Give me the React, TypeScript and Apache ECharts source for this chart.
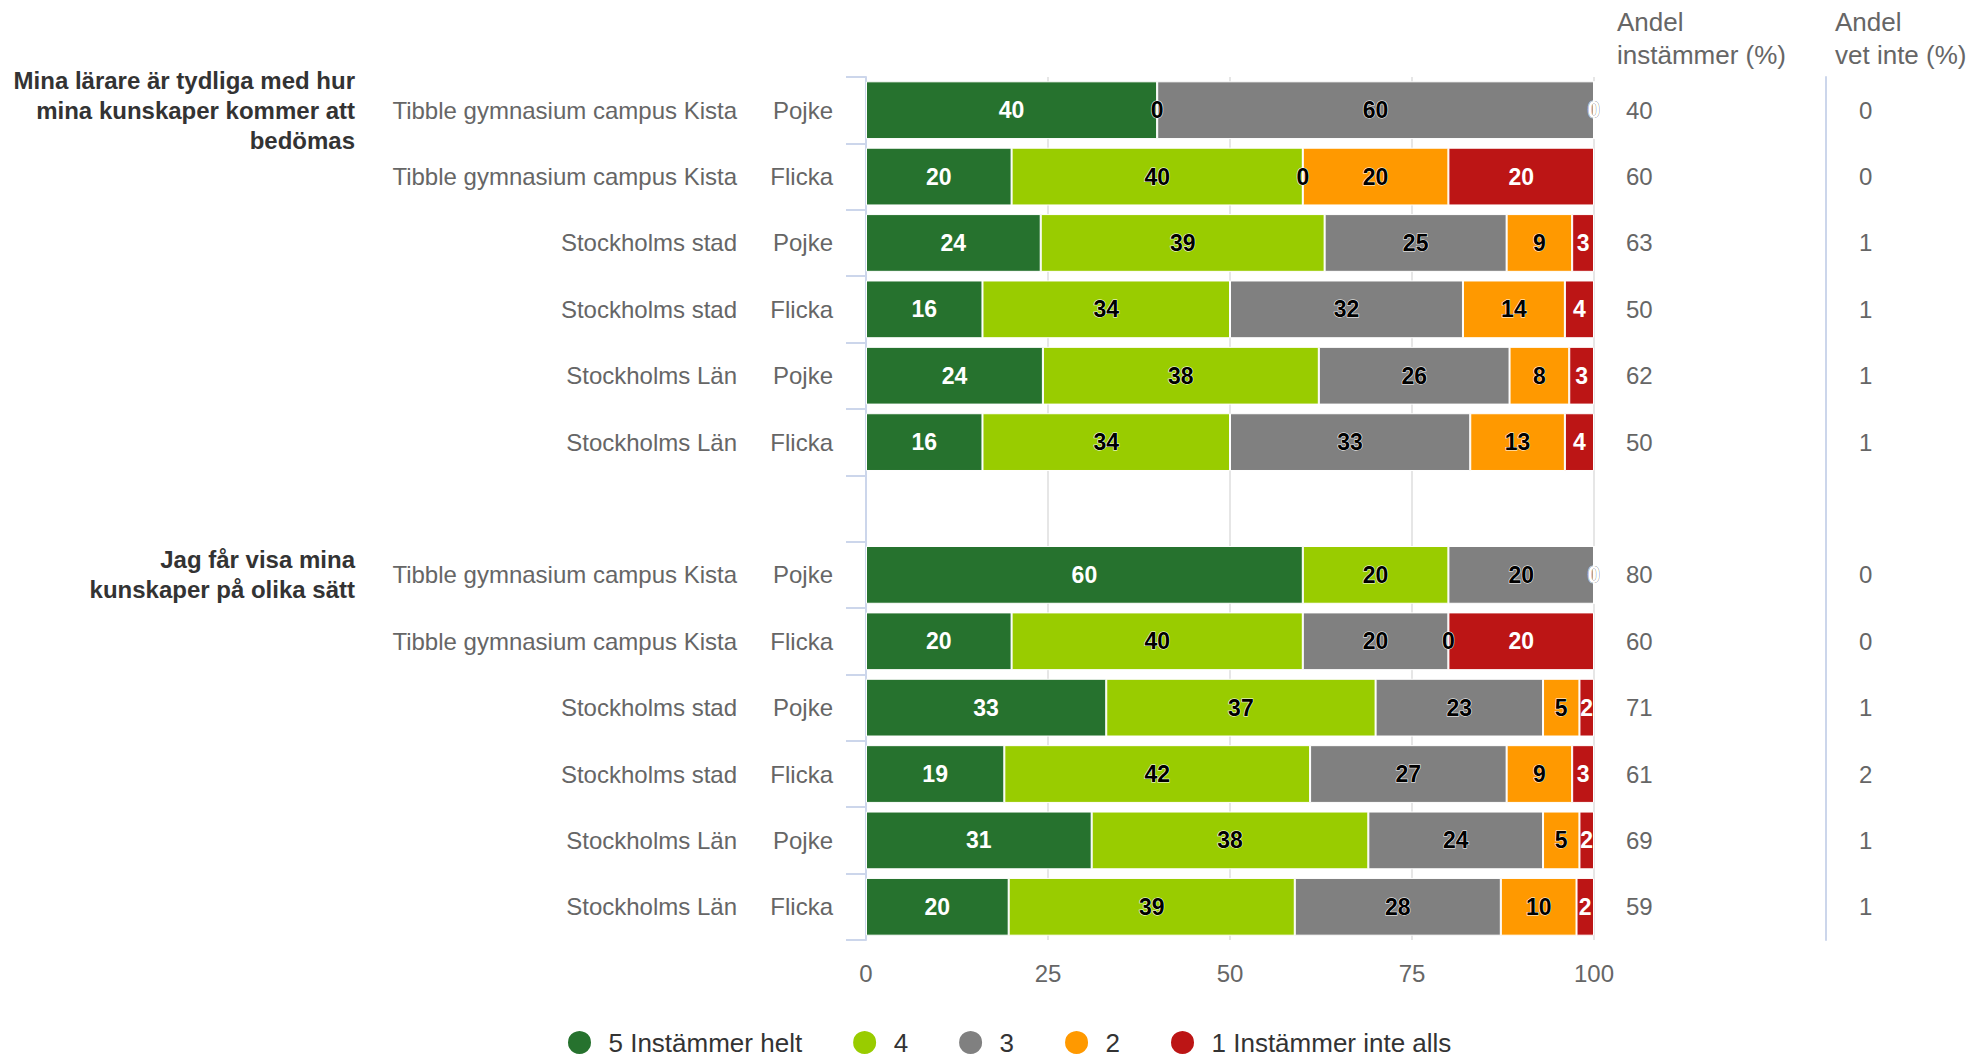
import React, { useEffect, useRef } from 'react';
import * as echarts from 'echarts';

const questions = [
  'Mina lärare är tydliga med hur\nmina kunskaper kommer att\nbedömas', '', '', '', '', '', '',
  'Jag får visa mina\nkunskaper på olika sätt', '', '', '', '', '',
];
const schools = [
  'Tibble gymnasium campus Kista', 'Tibble gymnasium campus Kista', 'Stockholms stad', 'Stockholms stad', 'Stockholms Län', 'Stockholms Län', '',
  'Tibble gymnasium campus Kista', 'Tibble gymnasium campus Kista', 'Stockholms stad', 'Stockholms stad', 'Stockholms Län', 'Stockholms Län',
];
const genders = ['Pojke', 'Flicka', 'Pojke', 'Flicka', 'Pojke', 'Flicka', '', 'Pojke', 'Flicka', 'Pojke', 'Flicka', 'Pojke', 'Flicka'];

const seriesNames = ['5 Instämmer helt', '4', '3', '2', '1 Instämmer inte alls'];
const s5 = [40, 20, 24, 16, 24.3, 16, null, 60, 20, 33, 19, 31, 19.6];
const s4 = [0, 40, 39, 34, 37.9, 34, null, 20, 40, 37, 42, 38, 39.3];
const s3 = [60, 0, 25, 32, 26.2, 33, null, 20, 20, 23, 27, 24, 28.3];
const s2 = [0, 20, 9, 14, 8.2, 13, null, 0, 0, 5, 9, 5, 10.4];
const s1 = [0, 20, 3, 4, 3.4, 4, null, 0, 20, 2, 3, 2, 2.4];

const agree = ['40', '60', '63', '50', '62', '50', '', '80', '60', '71', '61', '69', '59'];
const dontKnow = ['0', '0', '1', '1', '1', '1', '', '0', '0', '1', '2', '1', '1'];

const xTicks = { min: 0, max: 100, interval: 25 };

const colors = ['#26722e', '#99cc00', '#808080', '#ff9900', '#bc1515'];
const labelColors = ['#ffffff', '#000000', '#000000', '#000000', '#ffffff'];

const FONT = '"Liberation Sans", Arial, Helvetica, sans-serif';

export default function App() {
  const ref = useRef<HTMLDivElement>(null);
  useEffect(() => {
    const chart = echarts.init(ref.current as HTMLDivElement, null, { renderer: 'svg' });
    const idx = genders.map((_, i) => String(i));
    const baseY = {
      type: 'category' as const,
      data: idx,
      inverse: true,
      axisLine: { show: false },
      axisTick: { show: false },
      splitLine: { show: false },
    };
    const allSeries = [s5, s4, s3, s2, s1];
    const option: any = {
      animation: false,
      textStyle: { fontFamily: FONT },
      color: colors,
      grid: { left: 866, top: 77, width: 728, height: 863, containLabel: false, outerBoundsMode: 'none' },
      legend: {
        left: 566,
        top: 1029,
        padding: 0,
        icon: 'circle',
        itemWidth: 48,
        itemHeight: 25,
        itemGap: 49,
        data: seriesNames,
        textStyle: { fontSize: 26, color: '#333333', fontFamily: FONT },
      },
      graphic: [
        {
          type: 'text',
          x: 1617,
          y: 5,
          style: { text: 'Andel\ninstämmer (%)', fontSize: 26, lineHeight: 33, fill: '#666666', fontFamily: FONT, verticalAlign: 'top' },
        },
        {
          type: 'text',
          x: 1835,
          y: 5,
          style: { text: 'Andel\nvet inte (%)', fontSize: 26, lineHeight: 33, fill: '#666666', fontFamily: FONT, verticalAlign: 'top' },
        },
      ],
      xAxis: {
        type: 'value',
        min: xTicks.min,
        max: xTicks.max,
        interval: xTicks.interval,
        axisLine: { show: false },
        axisTick: { show: false },
        axisLabel: { fontSize: 24, color: '#666666', margin: 21, fontFamily: FONT },
        splitLine: { show: true, lineStyle: { color: '#e6e6e6', width: 2 } },
      },
      yAxis: [
        {
          ...baseY,
          position: 'left',
          axisLine: { show: true, lineStyle: { color: '#ccd6eb', width: 2 } },
          axisTick: { show: true, length: 20, lineStyle: { color: '#ccd6eb', width: 2 } },
          axisLabel: {
            interval: 0,
            margin: 33,
            fontSize: 24,
            color: '#666666',
            fontFamily: FONT,
            formatter: (_v: string, i: number) => genders[i],
          },
        },
        {
          ...baseY,
          position: 'left',
          axisLabel: {
            interval: 0,
            margin: 129,
            fontSize: 24,
            color: '#666666',
            fontFamily: FONT,
            formatter: (_v: string, i: number) => schools[i],
          },
        },
        {
          ...baseY,
          position: 'left',
          axisLabel: {
            interval: 0,
            margin: 511,
            fontSize: 24,
            lineHeight: 30,
            fontWeight: 'bold',
            color: '#333333',
            align: 'right',
            fontFamily: FONT,
            formatter: (_v: string, i: number) => questions[i],
          },
        },
        {
          ...baseY,
          position: 'right',
          axisLabel: {
            interval: 0,
            margin: 32,
            fontSize: 24,
            color: '#666666',
            fontFamily: FONT,
            formatter: (_v: string, i: number) => agree[i],
          },
        },
        {
          ...baseY,
          position: 'right',
          offset: 232,
          axisLine: { show: true, lineStyle: { color: '#ccd6eb', width: 2 } },
          axisLabel: {
            interval: 0,
            margin: 33,
            fontSize: 24,
            color: '#666666',
            fontFamily: FONT,
            formatter: (_v: string, i: number) => dontKnow[i],
          },
        },
      ],
      series: allSeries.map((vals, k) => ({
        name: seriesNames[k],
        type: 'bar',
        stack: 'total',
        yAxisIndex: 0,
        barCategoryGap: '13%',
        data: vals,
        itemStyle: { color: colors[k], borderColor: '#ffffff', borderWidth: 1 },
        label: {
          show: true,
          position: 'inside',
          fontSize: 23,
          fontWeight: 'bold',
          fontFamily: FONT,
          color: labelColors[k],
          textBorderColor: labelColors[k] === '#000000' ? '#ffffff' : 'transparent',
          textBorderWidth: labelColors[k] === '#000000' ? 1 : 0,
          formatter: (p: any) => (p.value == null ? '' : String(Math.round(p.value))),
        },
      })),
    };
    chart.setOption(option);
    return () => chart.dispose();
  }, []);
  return (
    <div
      ref={ref}
      style={{ position: 'fixed', left: 0, top: 0, width: 1976, height: 1059, background: '#ffffff' }}
    />
  );
}
